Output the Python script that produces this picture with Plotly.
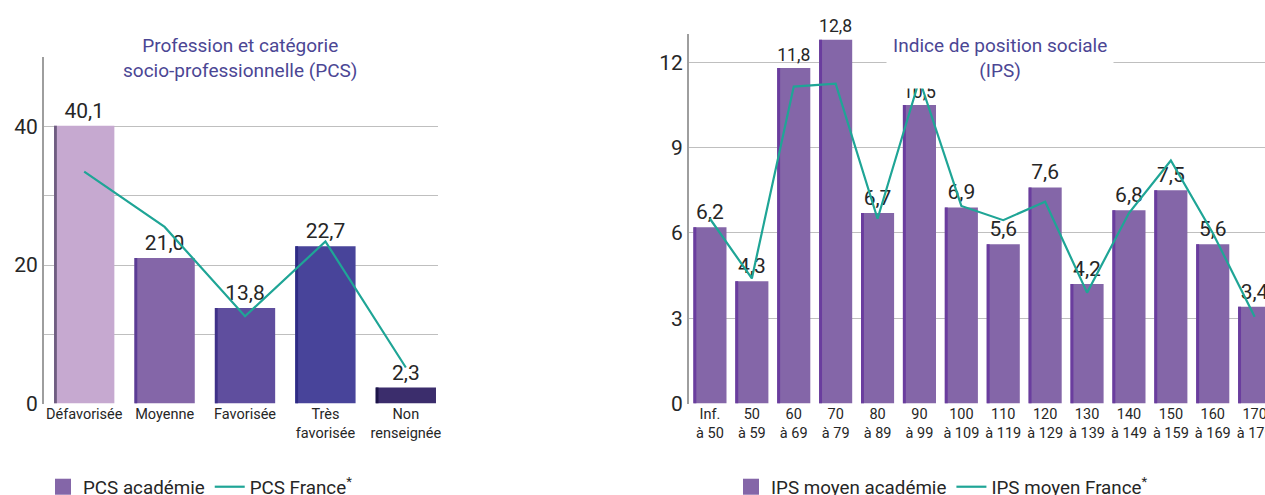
import plotly.graph_objects as go

# ---- data ----
pcs_categories = ["Défavorisée", "Moyenne", "Favorisée", "Très<br>favorisée", "Non<br>renseignée"]
pcs_academie = [40.1, 21.0, 13.8, 22.7, 2.3]
pcs_france = [33.5, 25.5, 12.6, 23.4, 5.2]
pcs_colors = ["#C6A9D0", "#8466A8", "#5F4E9E", "#48449A", "#3B2D6C"]
pcs_edge_colors = ["#6E5C80", "#5B3C95", "#3F3188", "#2F2B85", "#1C1448"]

ips_categories = ["Inf.<br>à 50", "50<br>à 59", "60<br>à 69", "70<br>à 79", "80<br>à 89", "90<br>à 99",
                  "100<br>à 109", "110<br>à 119", "120<br>à 129", "130<br>à 139", "140<br>à 149",
                  "150<br>à 159", "160<br>à 169", "170<br>à 179"]
ips_academie = [6.2, 4.3, 11.8, 12.8, 6.7, 10.5, 6.9, 5.6, 7.6, 4.2, 6.8, 7.5, 5.6, 3.4]
ips_france = [6.5, 4.4, 11.15, 11.25, 6.5, 11.4, 6.95, 6.45, 7.1, 3.9, 6.7, 8.55, 6.0, 3.05]

pcs_ticks = [0, 20, 40]
ips_ticks = [0, 3, 6, 9, 12]

FONT = "Roboto, Arial, sans-serif"
TEAL = "#1FA596"
TITLE_C = "#4B4694"
BAR_C = "#8466A8"
EDGE_C = "#6A3D9E"
TXT = "#262626"

def fmt(v):
    return f"{v:.1f}".replace(".", ",")

W, H = 1265, 495
def px(x):
    return x / W
def py(y):
    return (H - y) / H

fig = go.Figure()

# left chart
fig.add_trace(go.Bar(
    x=pcs_categories, y=pcs_academie, marker=dict(color=pcs_colors, line=dict(width=0)),
    width=0.75, offset=-0.375, text=[fmt(v) for v in pcs_academie], textposition="outside",
    textfont=dict(size=21, color=TXT, family=FONT), cliponaxis=False,
    showlegend=False, xaxis="x", yaxis="y", hoverinfo="skip"))
fig.add_trace(go.Bar(
    x=pcs_categories, y=pcs_academie, marker=dict(color=pcs_edge_colors, line=dict(width=0)),
    width=0.035, offset=-0.375, showlegend=False, xaxis="x", yaxis="y", hoverinfo="skip"))
fig.add_trace(go.Scatter(x=[None], y=[None], mode="markers",
                         marker=dict(symbol="square", size=16, color=BAR_C),
                         name="PCS académie", xaxis="x", yaxis="y", legend="legend"))
fig.add_trace(go.Scatter(
    x=pcs_categories, y=pcs_france, mode="lines", line=dict(color=TEAL, width=2.2),
    name="PCS France<sup>*</sup>", xaxis="x", yaxis="y", legend="legend"))

# right chart
fig.add_trace(go.Bar(
    x=ips_categories, y=ips_academie, marker=dict(color=BAR_C, line=dict(width=0)),
    width=0.79, offset=-0.395, text=[fmt(v) for v in ips_academie], textposition="outside",
    textfont=dict(size=21, color=TXT, family=FONT), cliponaxis=False,
    showlegend=False, xaxis="x2", yaxis="y2", hoverinfo="skip"))
fig.add_trace(go.Bar(
    x=ips_categories, y=ips_academie, marker=dict(color=EDGE_C, line=dict(width=0)),
    width=0.07, offset=-0.395, showlegend=False, xaxis="x2", yaxis="y2", hoverinfo="skip"))
fig.add_trace(go.Scatter(x=[None], y=[None], mode="markers",
                         marker=dict(symbol="square", size=16, color=BAR_C),
                         name="IPS moyen académie", xaxis="x2", yaxis="y2", legend="legend2"))
fig.add_trace(go.Scatter(
    x=ips_categories, y=ips_france, mode="lines", line=dict(color=TEAL, width=2.2),
    name="IPS moyen France<sup>*</sup>", xaxis="x2", yaxis="y2", legend="legend2"))

axis_common = dict(showline=True, linecolor="#9E9E9E", linewidth=1.8, ticks="",
                   tickfont=dict(size=21, color=TXT, family=FONT))

right_end = -0.5 + (1265 - 689) / 41.9

fig.update_layout(
    width=W, height=H,
    margin=dict(l=0, r=0, t=0, b=0, autoexpand=False),
    paper_bgcolor="white", plot_bgcolor="white",
    font=dict(family=FONT, color=TXT),
    barmode="overlay",
    xaxis=dict(domain=[px(44), px(438)], range=[-0.5, 4.4], anchor="y",
               showline=False, showgrid=False, ticks="", automargin=False,
               tickfont=dict(size=14.5, color=TXT, family=FONT)),
    yaxis=dict(domain=[py(403.5), py(57.3)], range=[0, 50], anchor="x", automargin=False,
               tickvals=[0, 10, 20, 30, 40, 50],
               ticktext=[str(pcs_ticks[0]), "", str(pcs_ticks[1]), "", str(pcs_ticks[2]), ""],
               showgrid=True, gridcolor="#BFBFBF", gridwidth=1.2, zeroline=False,
               **axis_common),
    xaxis2=dict(domain=[px(689), 1.0], range=[-0.5, right_end], anchor="y2",
                showline=False, showgrid=False, ticks="", automargin=False,
                tickfont=dict(size=14.5, color=TXT, family=FONT)),
    yaxis2=dict(domain=[py(403.5), py(34)], range=[0, 13], anchor="x2", automargin=False,
                tickvals=ips_ticks, showgrid=True, gridcolor="#BFBFBF", gridwidth=1.2,
                zeroline=False, **axis_common),
    legend=dict(orientation="h", x=px(43), y=py(487), xanchor="left", yanchor="middle",
                font=dict(size=18.8, color=TXT, family=FONT), bgcolor="rgba(0,0,0,0)",
                itemwidth=30),
    legend2=dict(orientation="h", x=px(731), y=py(487), xanchor="left", yanchor="middle",
                 font=dict(size=18.8, color=TXT, family=FONT), bgcolor="rgba(0,0,0,0)",
                 itemwidth=30),
    annotations=[
        dict(text="Profession et catégorie<br>socio-professionnelle (PCS)", x=px(240), y=py(58),
             xref="paper", yref="paper", xanchor="center", yanchor="middle", showarrow=False,
             font=dict(size=19, color=TITLE_C, family=FONT), bgcolor="white", borderpad=6),
        dict(text="Indice de position sociale<br>(IPS)", x=px(1000), y=py(58),
             xref="paper", yref="paper", xanchor="center", yanchor="middle", showarrow=False,
             font=dict(size=19, color=TITLE_C, family=FONT), bgcolor="white", borderpad=6),
    ],
)

fig.write_html(
    "out.html",
    config={"displayModeBar": False},
    post_script="document.body.style.margin='0';document.body.style.overflow='hidden';"
                "document.documentElement.style.overflow='hidden';",
)
